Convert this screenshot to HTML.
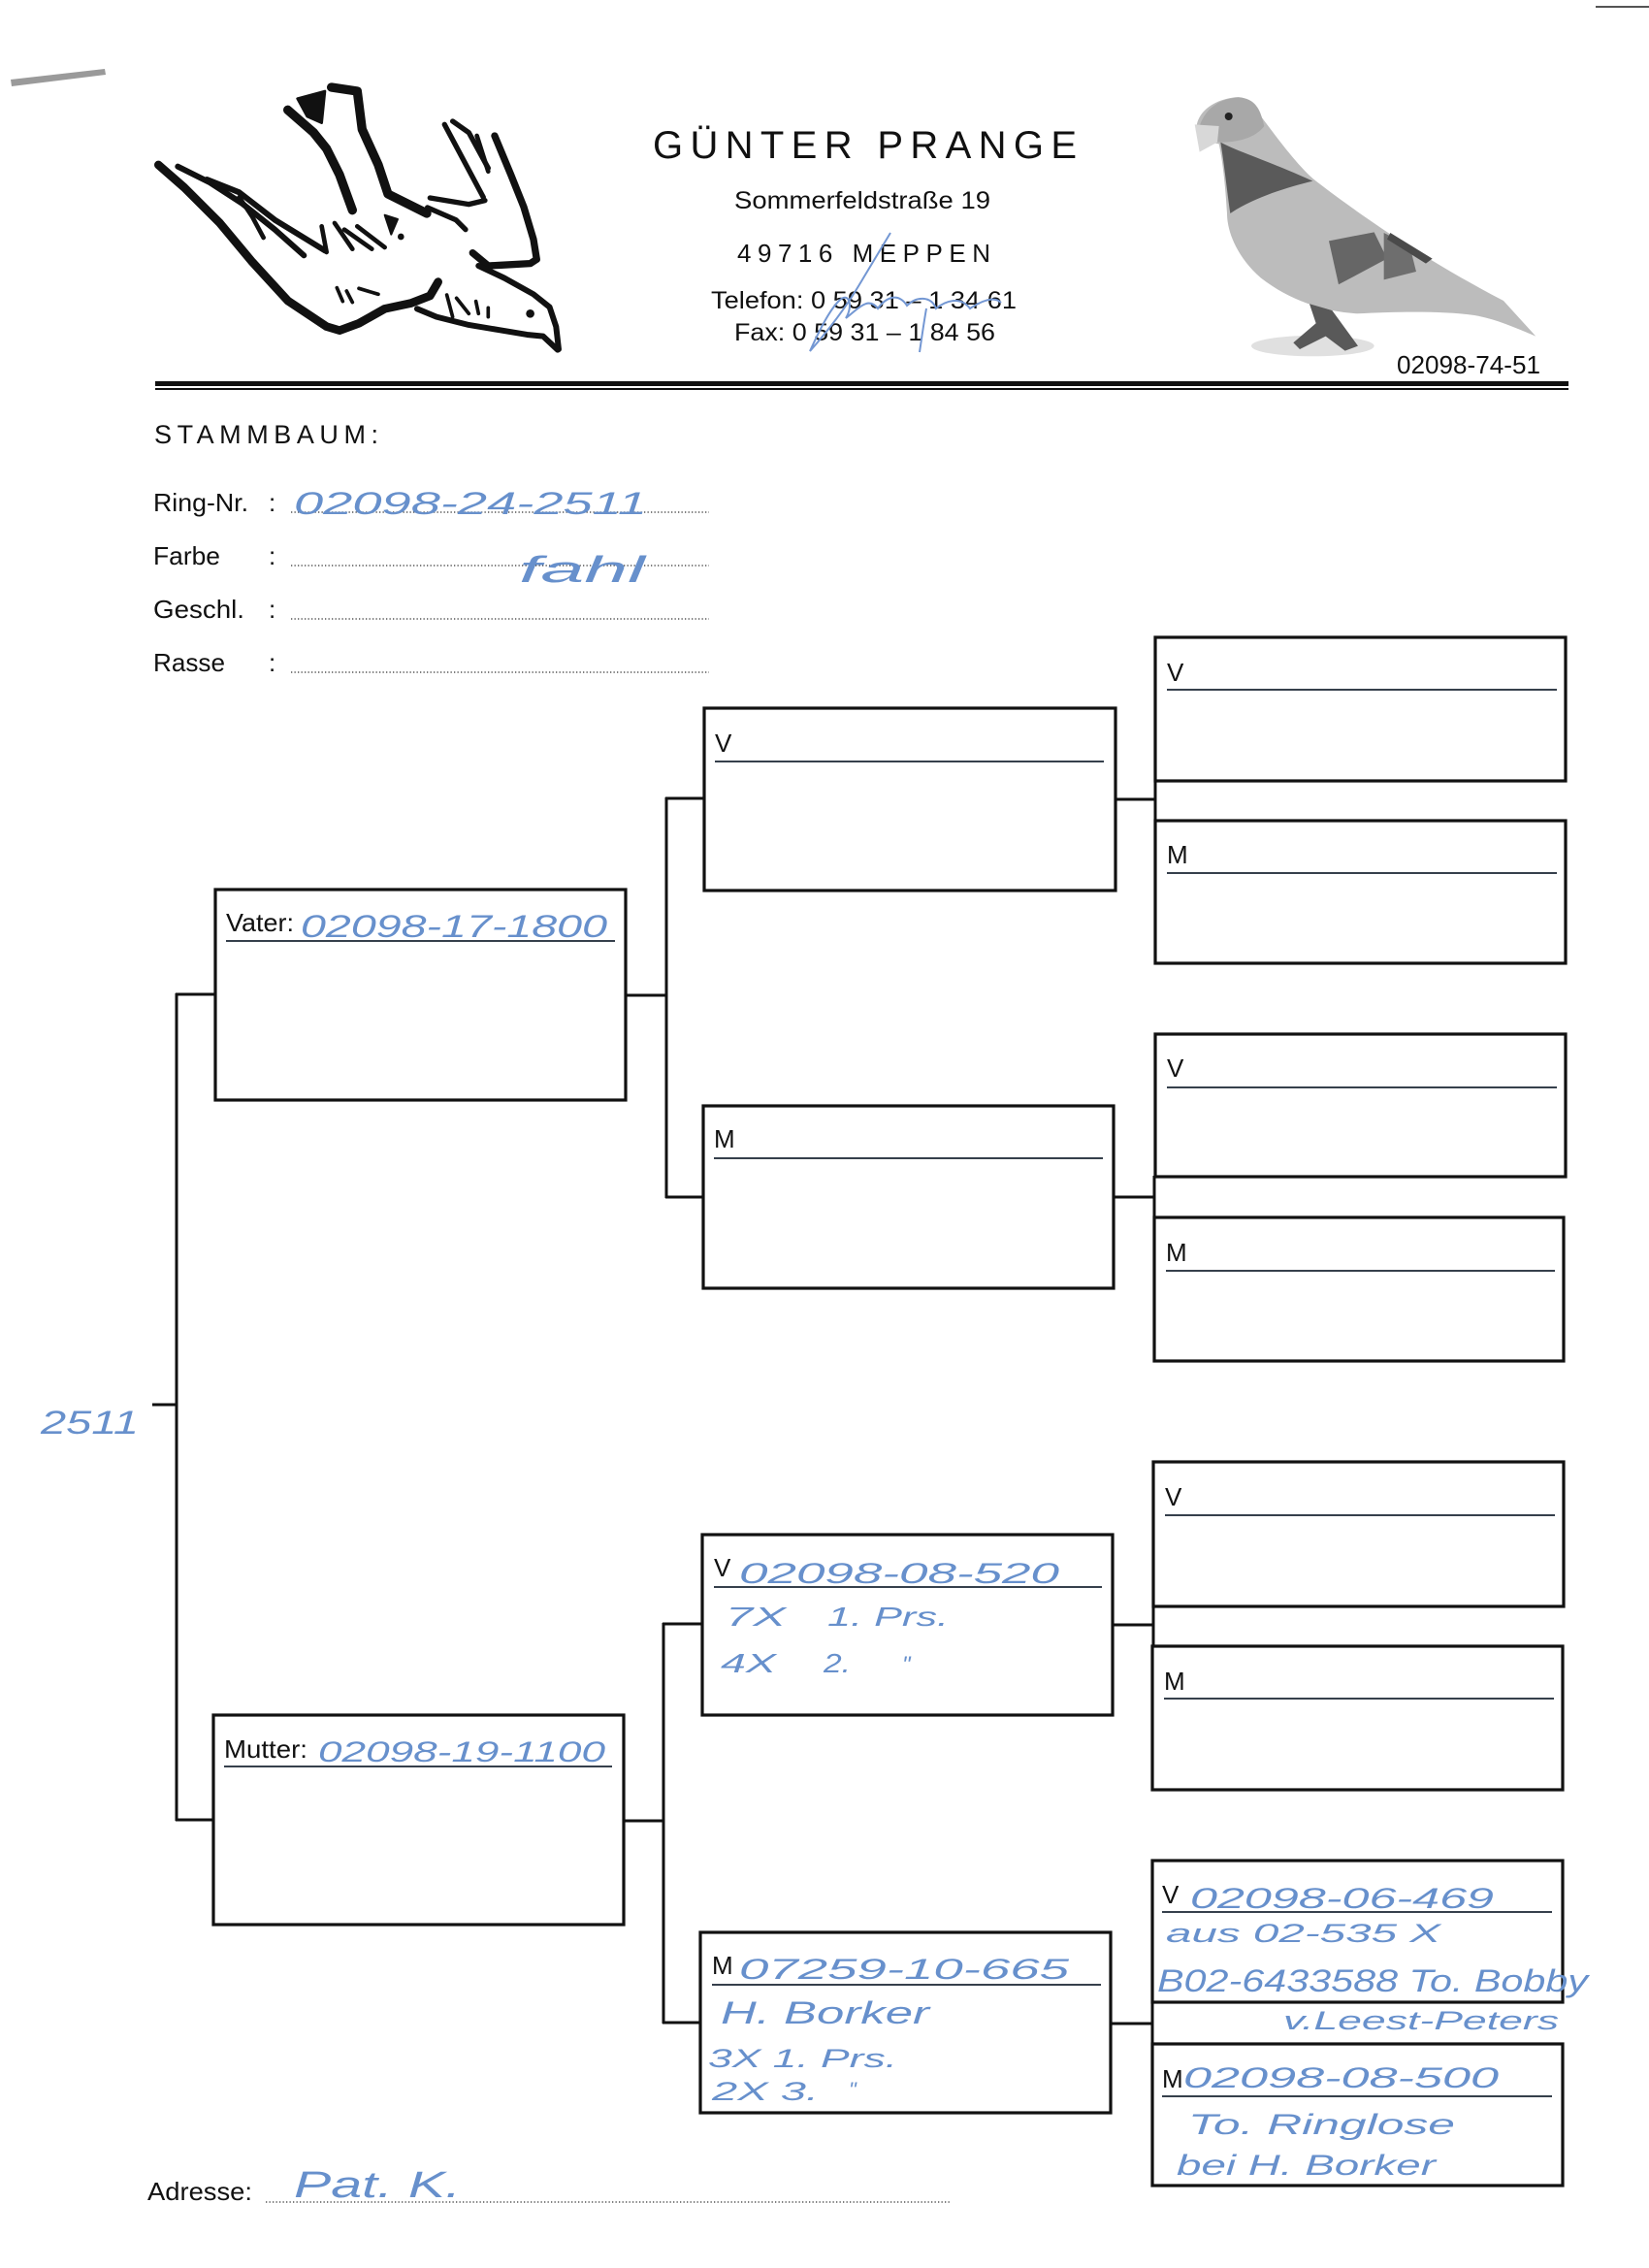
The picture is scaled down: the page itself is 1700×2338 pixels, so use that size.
<!DOCTYPE html>
<html>
<head>
<meta charset="utf-8">
<style>
html,body{margin:0;padding:0;background:#fff;}
svg{display:block;}
.lbl{font-family:"Liberation Sans",Arial,sans-serif;fill:#111;}
.hw{font-family:"Liberation Sans",Arial,sans-serif;font-style:italic;fill:#6790cc;}
</style>
</head>
<body>
<svg width="1700" height="2338" viewBox="0 0 1700 2338" xmlns="http://www.w3.org/2000/svg">
<rect width="1700" height="2338" fill="#fff"/>

<!-- scan artifacts -->
<polygon points="11,82 108,71 109,77 12,89" fill="#9a9a9a"/>
<line x1="1645" y1="7" x2="1700" y2="7" stroke="#555" stroke-width="2"/>

<!-- Bird drawing -->
<g transform="translate(150,70) scale(0.3333)" fill="none" stroke="#111" stroke-linecap="round" stroke-linejoin="round">
  <polyline points="40,300 120,370 230,480 330,600 440,720 560,800 600,812 660,790 740,745 820,728 880,705 905,662" stroke-width="26"/>
  <polyline points="100,305 200,355 300,420 400,500 490,580" stroke-width="18"/>
  <polyline points="190,345 290,385 400,470 555,565" stroke-width="18"/>
  <polyline points="290,400 330,460 365,525" stroke-width="14"/>
  <polyline points="545,490 560,570" stroke-width="14"/>
  <polyline points="585,480 640,560" stroke-width="14"/>
  <polyline points="615,500 700,560" stroke-width="14"/>
  <polyline points="655,490 740,555" stroke-width="14"/>
  <polyline points="440,130 520,200 560,250 600,330 640,440" stroke-width="28"/>
  <polygon points="470,95 555,72 545,170 500,150" fill="#111" stroke-width="8"/>
  <polyline points="575,60 655,72 670,190 720,300 750,390 870,450" stroke-width="28"/>
  <polyline points="925,175 1045,400" stroke-width="16"/>
  <polyline points="950,165 1000,200 1060,310" stroke-width="16"/>
  <polyline points="1025,210 1060,320" stroke-width="14"/>
  <polyline points="1080,210 1130,330 1170,430 1200,530 1210,592 1190,605 1100,610 1060,612 1012,572" stroke-width="22"/>
  <polyline points="880,402 1000,422 1050,410" stroke-width="16"/>
  <polyline points="872,432 960,470 990,500" stroke-width="16"/>
  <polygon points="740,455 780,468 760,515" fill="#111" stroke-width="6"/>
  <circle cx="790" cy="522" r="10" fill="#111" stroke="none"/>
  <polyline points="1030,612 1110,650 1200,700 1250,740 1270,800 1278,870" stroke-width="18"/>
  <polyline points="1275,872 1230,830 1180,825 1090,810 1000,795 900,770 840,745" stroke-width="18"/>
  <circle cx="1190" cy="760" r="13" fill="#111" stroke="none"/>
  <polyline points="592,680 610,722" stroke-width="11"/>
  <polyline points="622,690 640,725" stroke-width="11"/>
  <polyline points="660,682 720,700" stroke-width="11"/>
  <polyline points="932,702 950,770" stroke-width="11"/>
  <polyline points="962,712 1000,760" stroke-width="11"/>
  <polyline points="1022,722 1030,760" stroke-width="11"/>
  <polyline points="1060,742 1060,770" stroke-width="11"/>
</g>

<!-- Header text -->
<text class="lbl" x="673" y="163" font-size="40" textLength="437" lengthAdjust="spacing">GÜNTER PRANGE</text>
<text class="lbl" x="757" y="215" font-size="25" textLength="264" lengthAdjust="spacingAndGlyphs">Sommerfeldstraße 19</text>
<text class="lbl" x="760" y="270" font-size="26" textLength="261" lengthAdjust="spacing">49716 MEPPEN</text>
<text class="lbl" x="733" y="318" font-size="25" textLength="315" lengthAdjust="spacingAndGlyphs">Telefon: 0 59 31 – 1 34 61</text>
<text class="lbl" x="757" y="351" font-size="25" textLength="269" lengthAdjust="spacingAndGlyphs">Fax: 0 59 31 – 1 84 56</text>
<!-- signature -->
<path d="M918,240 C912,250 900,270 885,295 C870,320 850,345 835,362 C845,340 855,320 865,310 C875,300 880,315 872,328 C885,318 895,305 905,318 C912,308 925,300 935,315 C945,305 960,305 965,318 C975,310 990,305 1000,318 C1012,310 1025,305 1032,312 M955,318 C952,335 950,350 948,363" fill="none" stroke="#7397d3" stroke-width="2"/>

<!-- Pigeon -->
<g transform="translate(1200,80) scale(0.3333)">
  <ellipse cx="460" cy="830" rx="190" ry="32" fill="#e0e0e0"/>
  <path d="M300,120 C360,200 420,280 470,320 C600,420 800,560 1050,690 L1150,800 C1080,770 1020,745 960,735 C850,720 700,725 600,730 C500,725 390,690 300,620 C220,550 195,470 195,420 C190,330 180,250 170,205 C140,200 110,185 100,160 C100,110 150,65 230,60 C270,65 290,90 300,120 Z" fill="#bcbcbc"/>
  <path d="M175,200 C230,230 330,260 460,320 C380,340 280,370 205,420 C195,350 185,260 175,200 Z" fill="#5a5a5a"/>
  <path d="M110,150 C130,90 180,60 240,62 C290,70 300,110 310,150 C280,190 220,200 175,200 C140,195 115,180 110,150 Z" fill="#a8a8a8"/>
  <path d="M510,505 L650,478 L690,560 L540,640 Z" fill="#666"/>
  <path d="M680,480 L760,520 L780,600 L680,625 Z" fill="#6e6e6e"/>
  <path d="M700,480 L830,560 L810,575 L690,500 Z" fill="#4a4a4a"/>
  <path d="M450,700 L520,720 L600,830 L560,845 L500,800 L420,840 L400,820 L470,760 Z" fill="#595959"/>
  <path d="M95,145 L170,150 L165,200 L110,230 Z" fill="#d8d8d8"/>
  <circle cx="200" cy="120" r="12" fill="#222"/>
</g>
<text class="lbl" x="1440" y="385" font-size="26" textLength="148" lengthAdjust="spacingAndGlyphs">02098-74-51</text>

<!-- Header rules -->
<rect x="160" y="393" width="1457" height="5" fill="#111"/>
<rect x="160" y="400" width="1457" height="2" fill="#111"/>

<!-- STAMMBAUM + form -->
<text class="lbl" x="159" y="457" font-size="27" textLength="231" lengthAdjust="spacing">STAMMBAUM:</text>

<g class="lbl" font-size="26">
  <text x="158" y="527" textLength="98" lengthAdjust="spacingAndGlyphs">Ring-Nr.</text>
  <text x="158" y="582" textLength="69" lengthAdjust="spacingAndGlyphs">Farbe</text>
  <text x="158" y="637" textLength="94" lengthAdjust="spacingAndGlyphs">Geschl.</text>
  <text x="158" y="692" textLength="74" lengthAdjust="spacingAndGlyphs">Rasse</text>
  <text x="277" y="527">:</text>
  <text x="277" y="582">:</text>
  <text x="277" y="637">:</text>
  <text x="277" y="692">:</text>
</g>
<g stroke="#333" stroke-width="1.3" stroke-dasharray="1.3 2.2">
  <line x1="300" y1="528" x2="731" y2="528"/>
  <line x1="300" y1="583" x2="731" y2="583"/>
  <line x1="300" y1="638" x2="731" y2="638"/>
  <line x1="300" y1="693" x2="731" y2="693"/>
  <line x1="274" y1="2270" x2="980" y2="2270"/>
</g>
<text class="hw" x="303" y="530" font-size="32" textLength="364" lengthAdjust="spacingAndGlyphs">02098-24-2511</text>
<text class="hw" x="535" y="600" font-size="38" textLength="130" lengthAdjust="spacingAndGlyphs">fahl</text>

<!-- Connectors -->
<g stroke="#111" stroke-width="3" fill="none">
  <line x1="182" y1="1024" x2="182" y2="1877"/>
  <line x1="181" y1="1025" x2="222" y2="1025"/>
  <line x1="181" y1="1876" x2="220" y2="1876"/>
  <line x1="157" y1="1448" x2="182" y2="1448"/>
  <line x1="645" y1="1026" x2="688" y2="1026"/>
  <line x1="687" y1="822" x2="687" y2="1235"/>
  <line x1="686" y1="823" x2="726" y2="823"/>
  <line x1="686" y1="1234" x2="725" y2="1234"/>
  <line x1="643" y1="1877" x2="685" y2="1877"/>
  <line x1="684" y1="1673" x2="684" y2="2086"/>
  <line x1="683" y1="1674" x2="724" y2="1674"/>
  <line x1="683" y1="2085" x2="722" y2="2085"/>
  <line x1="1150" y1="824" x2="1191" y2="824"/>
  <line x1="1191" y1="804" x2="1191" y2="847"/>
  <line x1="1148" y1="1234" x2="1190" y2="1234"/>
  <line x1="1190" y1="1212" x2="1190" y2="1256"/>
  <line x1="1147" y1="1675" x2="1189" y2="1675"/>
  <line x1="1189" y1="1655" x2="1189" y2="1698"/>
  <line x1="1145" y1="2086" x2="1188" y2="2086"/>
  <line x1="1188" y1="2063" x2="1188" y2="2108"/>
</g>

<!-- Boxes -->
<g stroke="#111" stroke-width="3.2" fill="none">
  <rect x="222" y="917" width="423" height="217"/>
  <rect x="220" y="1768" width="423" height="216"/>
  <rect x="726" y="730" width="424" height="188"/>
  <rect x="725" y="1140" width="423" height="188"/>
  <rect x="724" y="1582" width="423" height="186"/>
  <rect x="722" y="1992" width="423" height="186"/>
  <rect x="1191" y="657" width="423" height="148"/>
  <rect x="1191" y="846" width="423" height="147"/>
  <rect x="1191" y="1066" width="423" height="147"/>
  <rect x="1190" y="1255" width="422" height="148"/>
  <rect x="1189" y="1507" width="423" height="149"/>
  <rect x="1188" y="1697" width="423" height="148"/>
  <rect x="1188" y="1918" width="423" height="146"/>
  <rect x="1188" y="2107" width="423" height="146"/>
</g>

<!-- Underlines -->
<g stroke="#1a2433" stroke-width="1.8">
  <line x1="233" y1="970" x2="634" y2="970"/>
  <line x1="231" y1="1821" x2="631" y2="1821"/>
  <line x1="737" y1="785" x2="1138" y2="785"/>
  <line x1="736" y1="1194" x2="1137" y2="1194"/>
  <line x1="736" y1="1636" x2="1136" y2="1636"/>
  <line x1="734" y1="2046" x2="1135" y2="2046"/>
  <line x1="1203" y1="711" x2="1605" y2="711"/>
  <line x1="1203" y1="900" x2="1605" y2="900"/>
  <line x1="1203" y1="1121" x2="1605" y2="1121"/>
  <line x1="1202" y1="1310" x2="1603" y2="1310"/>
  <line x1="1201" y1="1562" x2="1603" y2="1562"/>
  <line x1="1200" y1="1751" x2="1602" y2="1751"/>
  <line x1="1198" y1="1971" x2="1600" y2="1971"/>
  <line x1="1198" y1="2161" x2="1600" y2="2161"/>
</g>

<!-- Box labels -->
<g class="lbl" font-size="26">
  <text x="233" y="960" textLength="70" lengthAdjust="spacingAndGlyphs">Vater:</text>
  <text x="231" y="1812" textLength="86" lengthAdjust="spacingAndGlyphs">Mutter:</text>
  <text x="737" y="775">V</text>
  <text x="736" y="1183">M</text>
  <text x="736" y="1625">V</text>
  <text x="734" y="2035">M</text>
  <text x="1203" y="702">V</text>
  <text x="1203" y="890">M</text>
  <text x="1203" y="1110">V</text>
  <text x="1202" y="1300">M</text>
  <text x="1201" y="1552">V</text>
  <text x="1200" y="1742">M</text>
  <text x="1198" y="1962">V</text>
  <text x="1198" y="2152">M</text>
</g>

<!-- Handwriting -->
<g class="hw">
  <text x="310" y="966" font-size="32" textLength="316" lengthAdjust="spacingAndGlyphs">02098-17-1800</text>
  <text x="328" y="1816" font-size="30" textLength="296" lengthAdjust="spacingAndGlyphs">02098-19-1100</text>

  <text x="762" y="1632" font-size="30" textLength="330" lengthAdjust="spacingAndGlyphs">02098-08-520</text>
  <text x="748" y="1676" font-size="28" textLength="62" lengthAdjust="spacingAndGlyphs">7X</text>
  <text x="853" y="1676" font-size="28" textLength="125" lengthAdjust="spacingAndGlyphs">1. Prs.</text>
  <text x="743" y="1724" font-size="28" textLength="57" lengthAdjust="spacingAndGlyphs">4X</text>
  <text x="849" y="1724" font-size="28" textLength="28" lengthAdjust="spacingAndGlyphs">2.</text>
  <text x="930" y="1724" font-size="24">"</text>

  <text x="762" y="2040" font-size="30" textLength="340" lengthAdjust="spacingAndGlyphs">07259-10-665</text>
  <text x="743" y="2086" font-size="32" textLength="215" lengthAdjust="spacingAndGlyphs">H. Borker</text>
  <text x="730" y="2131" font-size="27" textLength="195" lengthAdjust="spacingAndGlyphs">3X 1. Prs.</text>
  <text x="734" y="2165" font-size="27" textLength="110" lengthAdjust="spacingAndGlyphs">2X 3.</text>
  <text x="875" y="2162" font-size="22">"</text>

  <text x="1227" y="1967" font-size="30" textLength="313" lengthAdjust="spacingAndGlyphs">02098-06-469</text>
  <text x="1202" y="2002" font-size="27" textLength="283" lengthAdjust="spacingAndGlyphs">aus 02-535 X</text>
  <text x="1193" y="2053" font-size="32" textLength="444" lengthAdjust="spacingAndGlyphs">B02-6433588 To. Bobby</text>
  <text x="1323" y="2092" font-size="27" textLength="284" lengthAdjust="spacingAndGlyphs">v.Leest-Peters</text>

  <text x="1220" y="2152" font-size="30" textLength="325" lengthAdjust="spacingAndGlyphs">02098-08-500</text>
  <text x="1225" y="2200" font-size="30" textLength="275" lengthAdjust="spacingAndGlyphs">To. Ringlose</text>
  <text x="1213" y="2242" font-size="30" textLength="267" lengthAdjust="spacingAndGlyphs">bei H. Borker</text>

  <text x="42" y="1478" font-size="34" textLength="101" lengthAdjust="spacingAndGlyphs">2511</text>
  <text x="303" y="2265" font-size="38" textLength="172" lengthAdjust="spacingAndGlyphs">Pat. K.</text>
</g>

<!-- Adresse -->
<text class="lbl" x="152" y="2268" font-size="26" textLength="108" lengthAdjust="spacingAndGlyphs">Adresse:</text>
</svg>
</body>
</html>
